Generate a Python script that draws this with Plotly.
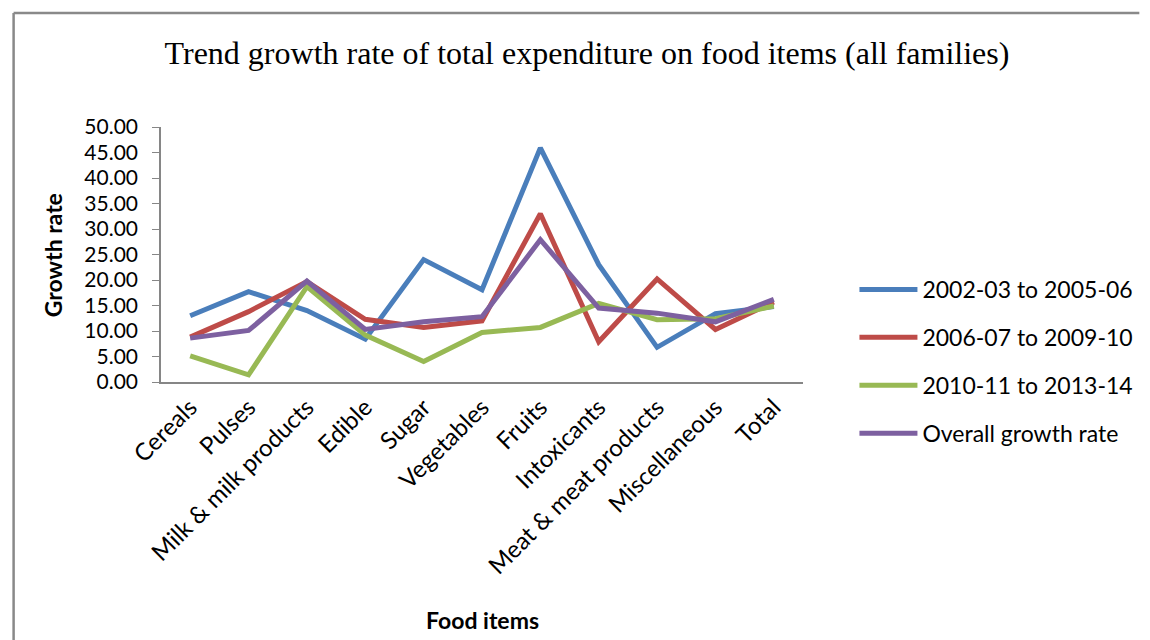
import plotly.graph_objects as go

# Food item categories on the x axis
categories = ["Cereals", "Pulses", "Milk & milk products", "Edible", "Sugar",
              "Vegetables", "Fruits", "Intoxicants", "Meat & meat products",
              "Miscellaneous", "Total"]

# Trend growth rates by period
period_2002_2006 = [13.0, 17.7, 14.0, 8.4, 24.0, 18.1, 45.9, 23.0, 6.8, 13.4, 14.8]
period_2006_2010 = [8.8, 13.8, 19.7, 12.3, 10.7, 12.0, 33.0, 7.9, 20.2, 10.3, 15.7]
period_2010_2014 = [5.1, 1.4, 18.7, 9.2, 4.0, 9.7, 10.7, 15.4, 12.2, 12.4, 14.9]
overall_growth = [8.6, 10.1, 19.8, 10.3, 11.8, 12.8, 27.9, 14.5, 13.5, 11.8, 16.2]

series_names = ["2002-03 to 2005-06", "2006-07 to 2009-10",
                "2010-11 to 2013-14", "Overall growth rate"]
series_values = [period_2002_2006, period_2006_2010, period_2010_2014, overall_growth]
series_colors = ["#4A7EBB", "#BE4B48", "#98B954", "#7D60A0"]

SANS = "Lato"
W, H = 1150, 640
L, R, T, B = 161, 340, 127, 258
pw, ph = W - L - R, H - T - B

fig = go.Figure()
for i, (name, vals, col) in enumerate(zip(series_names, series_values, series_colors)):
    fig.add_trace(go.Scatter(
        x=categories, y=vals, name=name, mode="lines",
        line=dict(color=col, width=5),
        legendgroup=f"g{i}",
    ))

def px_x(x):
    return (x - L) / pw

def px_y(y):
    return (H - B - y) / ph

fig.update_layout(
    width=W, height=H,
    margin=dict(l=L, r=R, t=T, b=B),
    paper_bgcolor="white", plot_bgcolor="white",
    title=dict(
        text="Trend growth rate of total expenditure on food items (all families)",
        font=dict(family="Liberation Serif", size=32, color="black"),
        x=587 / W, xanchor="center", xref="container",
        y=1 - 53 / H, yanchor="middle", yref="container",
    ),
    xaxis=dict(
        type="category", range=[-0.5, 10.5],
        showline=True, linecolor="#868686", linewidth=1.5,
        showgrid=False, ticks="", tickangle=-45,
        tickfont=dict(family=SANS, size=24, color="black"),
        zeroline=False,
    ),
    yaxis=dict(
        range=[0, 50], dtick=5, tickformat=".2f",
        showline=True, linecolor="#868686", linewidth=1.5,
        showgrid=False, ticks="outside", ticklen=7, tickcolor="#868686",
        ticklabelstandoff=10,
        tickfont=dict(family=SANS, size=21, color="black"),
        zeroline=False,
    ),
    legend=dict(
        x=px_x(862), xanchor="left",
        y=px_y(268), yanchor="top",
        font=dict(family=SANS, size=23, color="black"),
        traceorder="grouped", tracegroupgap=15,
        itemwidth=58, bgcolor="rgba(0,0,0,0)",
    ),
    showlegend=True,
    annotations=[
        dict(text="<b>Growth rate</b>", textangle=-90,
             x=px_x(52), y=px_y(255), xref="paper", yref="paper",
             xanchor="center", yanchor="middle", showarrow=False,
             font=dict(family=SANS, size=23, color="black")),
        dict(text="<b>Food items</b>",
             x=px_x(486), y=px_y(620), xref="paper", yref="paper",
             xanchor="center", yanchor="middle", showarrow=False,
             font=dict(family=SANS, size=23, color="black")),
    ],
    shapes=[
        # chart frame: top and left edges
        dict(type="line", xref="paper", yref="paper",
             x0=px_x(12), x1=px_x(W), y0=px_y(13), y1=px_y(13),
             line=dict(color="#898989", width=2.5)),
        dict(type="line", xref="paper", yref="paper",
             x0=px_x(12), x1=px_x(12), y0=px_y(13), y1=px_y(H),
             line=dict(color="#898989", width=2.5)),
    ],
)

fig.write_html("out.html", config={"displayModeBar": False})
